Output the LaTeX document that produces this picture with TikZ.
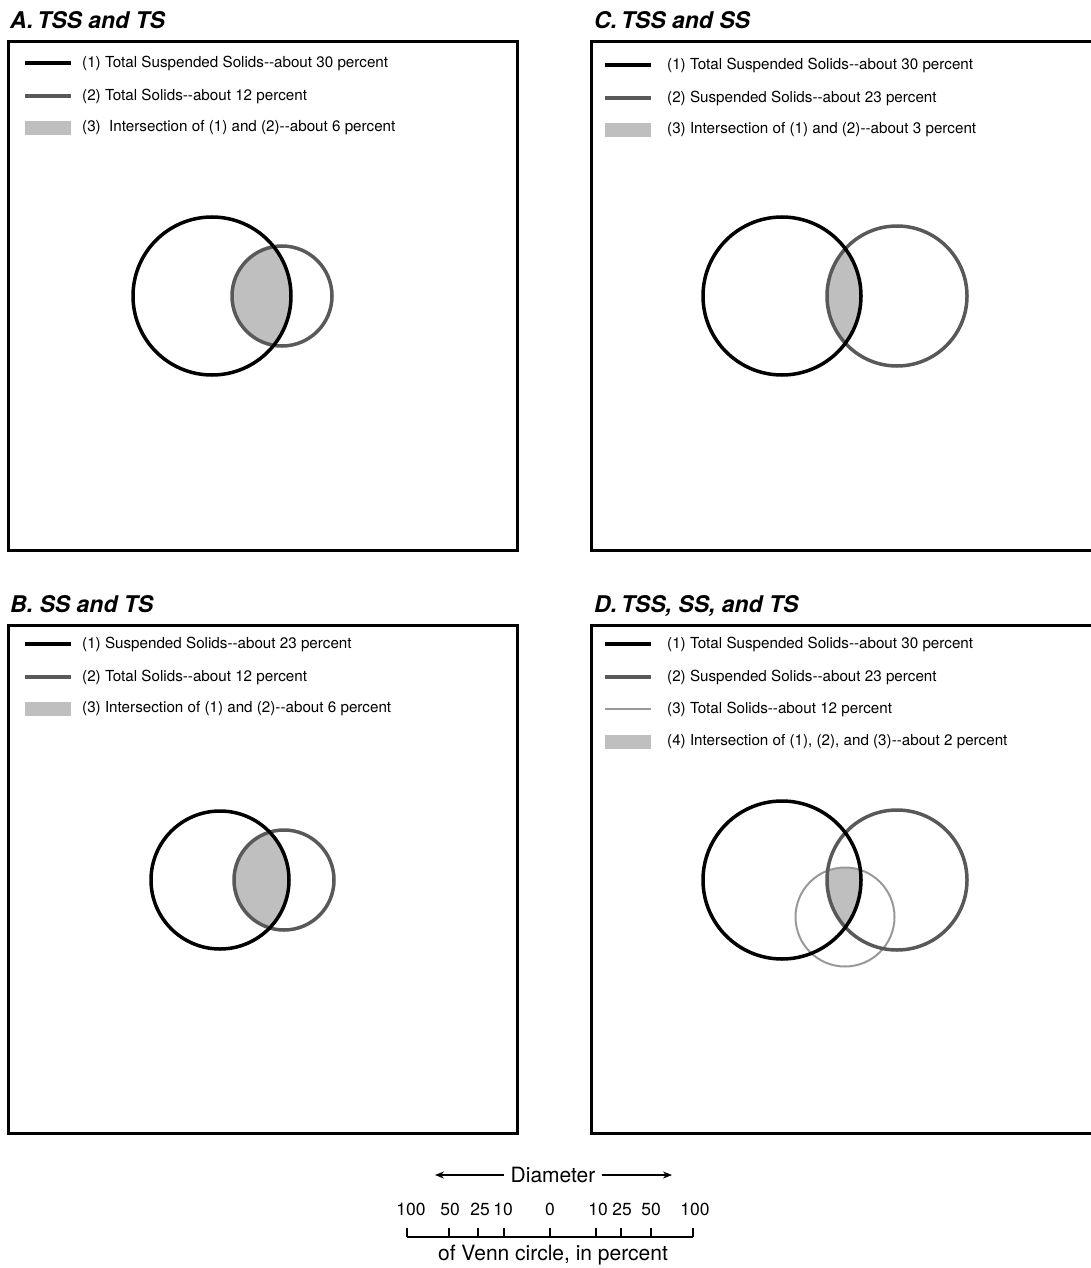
\documentclass[tikz,border=0pt]{standalone}
\usepackage{fontspec}
\setmainfont{TeX Gyre Heros}
\usetikzlibrary{positioning,arrows.meta}
\definecolor{ssgray}{gray}{0.35}
\definecolor{tsgray}{gray}{0.6}
\definecolor{capgray}{gray}{0.75}
\tikzset{panelbox/.style={draw,line width=3pt}}
\tikzset{paneltitle/.style={anchor=base west,inner sep=0pt,font=\fontsize{23}{27}\selectfont\bfseries\itshape}}
\tikzset{legtext/.style={anchor=west,inner sep=0pt,font=\fontsize{15.2}{18}\selectfont}}
\tikzset{firstline/.style={line width=3.5pt,black}}
\tikzset{secondline/.style={line width=3.5pt,ssgray}}
\tikzset{thirdline/.style={line width=2pt,tsgray}}
\tikzset{scaletext/.style={inner sep=6pt,font=\fontsize{21}{25}\selectfont}}
\tikzset{numtext/.style={inner sep=0pt,font=\fontsize{17.5}{21}\selectfont}}
\tikzset{scalebar/.style={line width=1.5pt}}
\tikzset{dimarrow/.style={line width=1.2pt,-{Stealth[length=9pt,width=7pt]}}}
\begin{document}
\begin{tikzpicture}[x=1pt,y=-1pt]
\useasboundingbox (0,0) rectangle (1091,1268);
% A. TSS and TS
\node[paneltitle] (tA) at (10,29) {A.\,TSS and TS};
\draw[panelbox] (8,42) rectangle (517,550);
\draw[firstline] (25,63) -- (71,63);
\draw[secondline] (25,96) -- (71,96);
\fill[capgray] (25,121) rectangle (71,135);
\node[legtext] (lA1) at (82,63) {(1) Total Suspended Solids-{}-about 30 percent};
\node[legtext] (lA2) at (82,96) {(2) Total Solids-{}-about 12 percent};
\node[legtext] (lA3) at (82,128) {(3)~~Intersection of (1) and (2)-{}-about 6 percent};
\coordinate (cA1) at (212,296);
\coordinate (cA2) at (282,296);
\begin{scope}
  \clip (cA1) circle[radius=79pt];
  \fill[capgray] (cA2) circle[radius=50pt];
\end{scope}
\draw[secondline] (cA2) circle[radius=50pt];
\draw[firstline] (cA1) circle[radius=79pt];
% C. TSS and SS
\node[paneltitle] (tC) at (594,29) {C.\,TSS and SS};
\draw[panelbox] (591,42) rectangle (1110,550);
\draw[firstline] (605,65) -- (651,65);
\draw[secondline] (605,98) -- (651,98);
\fill[capgray] (605,123) rectangle (651,137);
\node[legtext] (lC1) at (667,65) {(1) Total Suspended Solids-{}-about 30 percent};
\node[legtext] (lC2) at (667,98) {(2) Suspended Solids-{}-about 23 percent};
\node[legtext] (lC3) at (667,130) {(3) Intersection of (1) and (2)-{}-about 3 percent};
\coordinate (cC1) at (782,296);
\coordinate (cC2) at (897,296);
\begin{scope}
  \clip (cC1) circle[radius=79pt];
  \fill[capgray] (cC2) circle[radius=70pt];
\end{scope}
\draw[secondline] (cC2) circle[radius=70pt];
\draw[firstline] (cC1) circle[radius=79pt];
% B. SS and TS
\node[paneltitle] (tB) at (10,612) {B. SS and TS};
\draw[panelbox] (8,625) rectangle (517,1133);
\draw[firstline] (25,644) -- (71,644);
\draw[secondline] (25,677) -- (71,677);
\fill[capgray] (25,702) rectangle (71,716);
\node[legtext] (lB1) at (82,644) {(1) Suspended Solids-{}-about 23 percent};
\node[legtext] (lB2) at (82,677) {(2) Total Solids-{}-about 12 percent};
\node[legtext] (lB3) at (82,709) {(3) Intersection of (1) and (2)-{}-about 6 percent};
\coordinate (cB1) at (220,880);
\coordinate (cB2) at (284,880);
\begin{scope}
  \clip (cB1) circle[radius=69pt];
  \fill[capgray] (cB2) circle[radius=50pt];
\end{scope}
\draw[secondline] (cB2) circle[radius=50pt];
\draw[firstline] (cB1) circle[radius=69pt];
% D. TSS, SS, and TS
\node[paneltitle] (tD) at (594,612) {D.\,TSS, SS, and TS};
\draw[panelbox] (591,625) rectangle (1110,1133);
\draw[firstline] (605,644) -- (651,644);
\draw[secondline] (605,677) -- (651,677);
\draw[thirdline] (605,709) -- (651,709);
\fill[capgray] (605,735) rectangle (651,749);
\node[legtext] (lD1) at (667,644) {(1) Total Suspended Solids-{}-about 30 percent};
\node[legtext] (lD2) at (667,677) {(2) Suspended Solids-{}-about 23 percent};
\node[legtext] (lD3) at (667,709) {(3) Total Solids-{}-about 12 percent};
\node[legtext] (lD4) at (667,742) {(4) Intersection of (1), (2), and (3)-{}-about 2 percent};
\coordinate (cD1) at (782,880);
\coordinate (cD2) at (897,880);
\coordinate (cD3) at (845,917);
\begin{scope}
  \clip (cD1) circle[radius=79pt];
  \clip (cD2) circle[radius=70pt];
  \fill[capgray] (cD3) circle[radius=49.5pt];
\end{scope}
\draw[thirdline] (cD3) circle[radius=49.5pt];
\draw[secondline] (cD2) circle[radius=70pt];
\draw[firstline] (cD1) circle[radius=79pt];
% scale of diameters
\node[scaletext] (diam) at (553,1175) {Diameter};
\coordinate (arrL) at (435,1175);
\coordinate (arrR) at (672,1175);
\draw[dimarrow] (diam.west) -- (arrL);
\draw[dimarrow] (diam.east) -- (arrR);
\coordinate (barL) at (407,1237);
\coordinate (barR) at (693,1237);
\draw[scalebar] (barL) -- (barR);
\foreach \x in {407,449,478,504,550,596,621,651,693}
  \draw[scalebar] (\x,1237) -- (\x,1228);
\foreach \x/\lab in {411/100,450/50,480/25,503/10,550/0,598/10,622/25,651/50,695/100}
  \node[numtext] (num\x) at (\x,1209) {\lab};
\node[scaletext] (venn) at (553,1255) {of Venn circle, in percent};
\end{tikzpicture}
\end{document}
